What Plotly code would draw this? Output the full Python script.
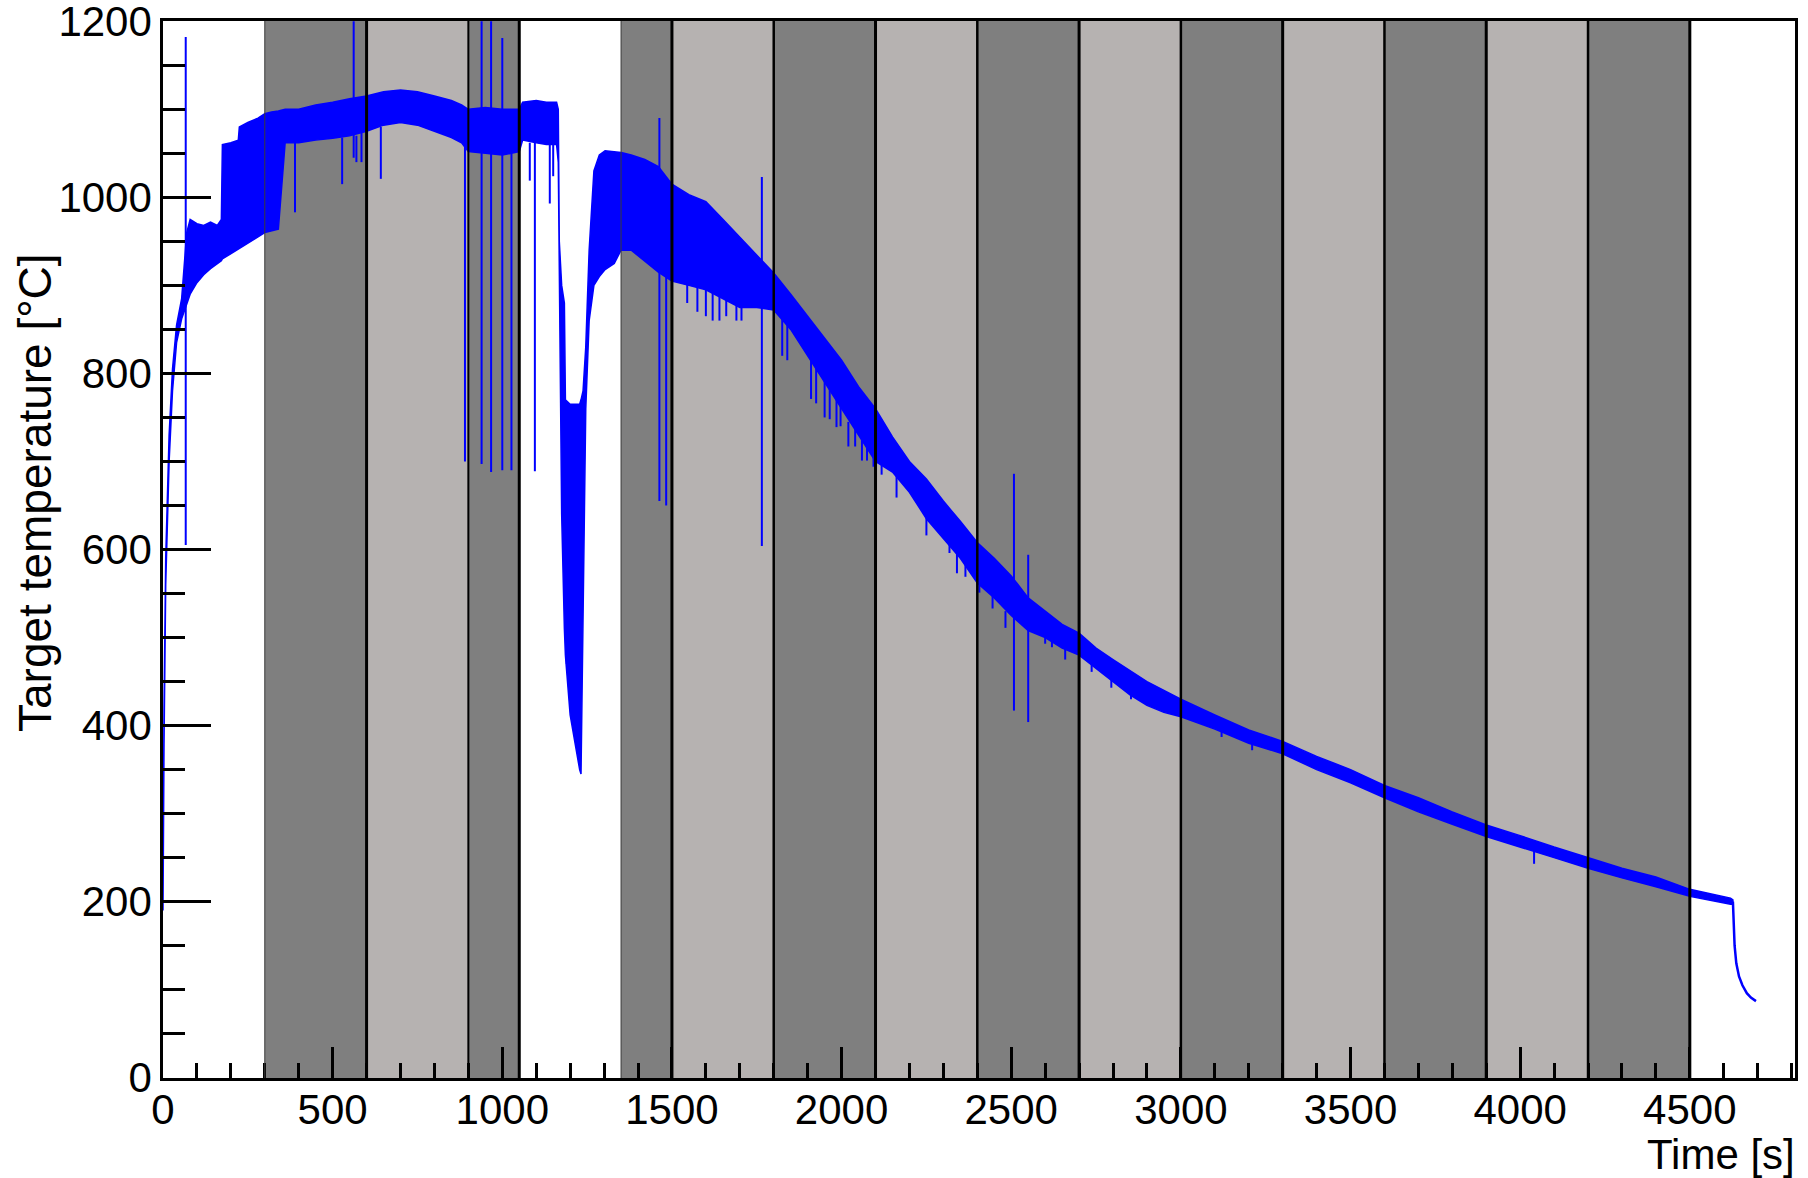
import plotly.graph_objects as go

# ---- measured target temperature (band of the noisy readout) ----
# time [s], upper and lower edge of the dense readout band [°C]
env_t = [0, 3, 8, 12, 18, 28, 40, 55, 70, 80, 100, 120, 140, 160, 172, 175, 200, 222, 225,
         250, 280, 300, 320, 340, 360, 400, 450, 500, 550, 600, 650, 700, 750, 800, 850,
         880, 900, 950, 1000, 1050, 1060, 1100, 1130, 1160, 1165, 1168, 1175, 1183, 1186,
         1200, 1215, 1228, 1232, 1238, 1246, 1256, 1270, 1286, 1303, 1330, 1350,
         1380, 1420, 1460, 1500, 1550, 1600, 1650, 1700, 1750, 1800, 1850, 1900, 1950,
         2000, 2050, 2100, 2150, 2200, 2250, 2300, 2350, 2400, 2450, 2500, 2550, 2600,
         2650, 2700, 2750, 2800, 2850, 2900, 2950, 3000, 3100, 3200, 3300, 3400, 3500,
         3600, 3700, 3800, 3900, 4000, 4100, 4200, 4300, 4400, 4500, 4620, 4627]
env_hi = [205, 420, 590, 660, 730, 805, 855, 885, 960, 975, 970, 968, 972, 968, 975, 1060, 1062, 1065, 1080,
          1085, 1090, 1095, 1097, 1098, 1100, 1100, 1105, 1108, 1112, 1115, 1120, 1122, 1120, 1115, 1110,
          1105, 1100, 1102, 1100, 1100, 1108, 1110, 1108, 1108, 1100, 950, 900, 880, 770,
          765, 765, 765, 770, 780, 830, 940, 1030, 1048, 1053, 1052, 1051,
          1048, 1043, 1035, 1015, 1003, 995, 975, 955, 935, 914, 890, 865, 840,
          815, 785, 760, 728, 700, 680, 655, 632, 608, 590, 570, 545, 530,
          515, 505, 488, 475, 462, 450, 440, 430, 412, 395, 382, 365, 350,
          332, 318, 302, 287, 275, 262, 250, 238, 228, 214, 204, 202]
env_lo = [190, 380, 560, 630, 700, 780, 835, 862, 878, 890, 903, 912, 919, 925, 928, 930, 936, 941, 942,
          948, 955, 960, 962, 964, 1062, 1062, 1065, 1067, 1070, 1075, 1082, 1085, 1082, 1075, 1068,
          1062, 1052, 1050, 1048, 1052, 1065, 1062, 1060, 1060, 1040, 880, 640, 510, 480,
          412, 380, 350, 345, 520, 760, 860, 900, 910, 918, 925, 940,
          940, 928, 915, 905, 900, 895, 885, 875, 875, 872, 850, 820, 790,
          760, 730, 700, 688, 665, 635, 612, 590, 562, 545, 525, 508, 500,
          488, 480, 465, 450, 435, 423, 415, 410, 396, 380, 368, 350, 335,
          318, 302, 288, 274, 262, 250, 238, 227, 217, 206, 197, 197]
assert len(env_t) == len(env_hi) == len(env_lo)

# cool-down after the heater is switched off
tail_t = [4627, 4629, 4632, 4637, 4645, 4655, 4668, 4680, 4695]
tail_T = [200, 175, 150, 130, 115, 105, 96, 91, 87]

# isolated readout glitches: time [s], low end, high end [°C]
spike_t = [67, 389, 528, 562, 570, 585, 642, 890, 939, 967, 1000, 1027, 1081, 1096, 1140, 1150,
           1190, 1463, 1483, 1545, 1575, 1600, 1620, 1640, 1660, 1690, 1705, 1765,
           1825, 1840, 1910, 1925, 1950, 1965, 1985, 1997, 2020, 2040, 2060, 2075, 2094, 2118,
           2162, 2250, 2318, 2340, 2365, 2406, 2445, 2483, 2508, 2550, 2600, 2620, 2659,
           2737, 2795, 2853, 3120, 3210, 4041]
spike_lo = [605, 983, 1015, 1045, 1040, 1040, 1021, 700, 697, 688, 690, 690, 1019, 689, 993, 1024,
            470, 655, 650, 880, 870, 865, 860, 860, 865, 860, 860, 604,
            820, 815, 771, 766, 750, 748, 739, 740, 717, 717, 701, 701, 694, 685,
            659, 616, 596, 573, 569, 551, 533, 511, 417, 404, 493, 489, 475,
            461, 443, 430, 387, 372, 243]
spike_hi = [1182, 1070, 1068, 1200, 1070, 1075, 1080, 1060, 1200, 1200, 1181, 1050, 1062, 1062, 1060, 1060,
            765, 1090, 920, 905, 900, 895, 895, 890, 885, 880, 878, 1023,
            865, 860, 820, 815, 795, 790, 770, 765, 745, 740, 725, 720, 705, 700,
            685, 640, 612, 600, 590, 565, 548, 530, 686, 594, 505, 500, 490,
            475, 455, 438, 398, 382, 262]
assert len(spike_t) == len(spike_lo) == len(spike_hi)

# axis labelling
x_ticks = [0, 500, 1000, 1500, 2000, 2500, 3000, 3500, 4000, 4500]
y_ticks = [0, 200, 400, 600, 800, 1000, 1200]

# beam-on / beam-off periods shown as grey boxes
band_start = [300, 600, 900, 1350, 1500, 1800, 2100, 2400, 2700, 3000, 3300, 3600, 3900, 4200]
band_end = [600, 900, 1050, 1500, 1800, 2100, 2400, 2700, 3000, 3300, 3600, 3900, 4200, 4500]
band_tone = ["dark", "light", "dark", "dark", "light", "dark", "light", "dark", "light",
             "dark", "light", "dark", "light", "dark"]
edge_t = [300, 600, 900, 1050, 1350, 1500, 1800, 2100, 2400, 2700, 3000, 3300, 3600, 3900, 4200, 4500]
edge_w = [1, 3, 2, 3, 1, 3, 2.5, 3, 2.5, 3, 2.5, 3, 2.5, 3, 2.5, 3]

TONES = {"dark": "#7f7f7f", "light": "#b6b2b1"}
BLUE = "#0000ff"
FONT = "Liberation Sans, Arial, sans-serif"

fig = go.Figure()

# readout band as a filled polygon
fig.add_trace(go.Scatter(
    x=env_t + env_t[::-1], y=env_hi + env_lo[::-1],
    mode="lines", fill="toself", fillcolor=BLUE,
    line=dict(color=BLUE, width=1.5), hoverinfo="skip", showlegend=False))

# glitches as vertical strokes
sx, sy = [], []
for t, lo, hi in zip(spike_t, spike_lo, spike_hi):
    sx += [t, t, None]
    sy += [lo, hi, None]
fig.add_trace(go.Scatter(x=sx, y=sy, mode="lines",
                         line=dict(color=BLUE, width=2), hoverinfo="skip", showlegend=False))

fig.add_trace(go.Scatter(x=tail_t, y=tail_T, mode="lines",
                         line=dict(color=BLUE, width=2.5), hoverinfo="skip", showlegend=False))

shapes = []
for a, b, tone in zip(band_start, band_end, band_tone):
    shapes.append(dict(type="rect", xref="x", yref="paper", x0=a, x1=b, y0=0, y1=1,
                       fillcolor=TONES[tone], line=dict(width=0), layer="below"))
for t, w in zip(edge_t, edge_w):
    col = "#3a3a3a" if w < 1.5 else "#000000"
    shapes.append(dict(type="line", xref="x", yref="paper", x0=t, x1=t, y0=0, y1=1,
                       line=dict(color=col, width=w), layer="above"))

fig.update_layout(
    width=1808, height=1178,
    margin=dict(l=163, r=13, t=21, b=100, autoexpand=False),
    paper_bgcolor="white", plot_bgcolor="white",
    font=dict(family=FONT, size=42, color="black"),
    shapes=shapes,
    showlegend=False,
    xaxis=dict(range=[0, 4810], tickmode="array", tickvals=x_ticks,
               ticktext=[str(v) for v in x_ticks], ticks="inside", ticklen=31,
               tickwidth=2.5, tickcolor="black", showline=True, linecolor="black",
               linewidth=2.5, mirror=True, showgrid=False, zeroline=False,
               ticklabelstandoff=-7, automargin=False,
               tickfont=dict(family=FONT, size=42, color="black"),
               minor=dict(tick0=0, dtick=100, ticks="inside", ticklen=15, tickwidth=2.5,
                          tickcolor="black", showgrid=False)),
    yaxis=dict(range=[-0.3, 1200.3], tickmode="array", tickvals=y_ticks,
               ticktext=[str(v) for v in y_ticks], ticks="inside", ticklen=48,
               tickwidth=2.5, tickcolor="black", showline=True, linecolor="black",
               linewidth=2.5, mirror=True, showgrid=False, zeroline=False,
               ticklabeloverflow="allow", automargin=False,
               tickfont=dict(family=FONT, size=42, color="black"),
               minor=dict(tick0=0, dtick=50, ticks="inside", ticklen=22, tickwidth=2.5,
                          tickcolor="black", showgrid=False)),
    annotations=[
        dict(text="Time [s]", xref="paper", yref="paper", x=1.0, y=-0.07,
             xanchor="right", yanchor="middle", xshift=2, yshift=-3, showarrow=False,
             font=dict(family=FONT, size=42, color="black")),
        dict(text="Target temperature [°C]", xref="paper", yref="paper",
             x=-0.0784, y=0.5535, xanchor="center", yanchor="middle", textangle=-90,
             showarrow=False, font=dict(family=FONT, size=46, color="black")),
    ],
)

fig.write_html("out.html")
